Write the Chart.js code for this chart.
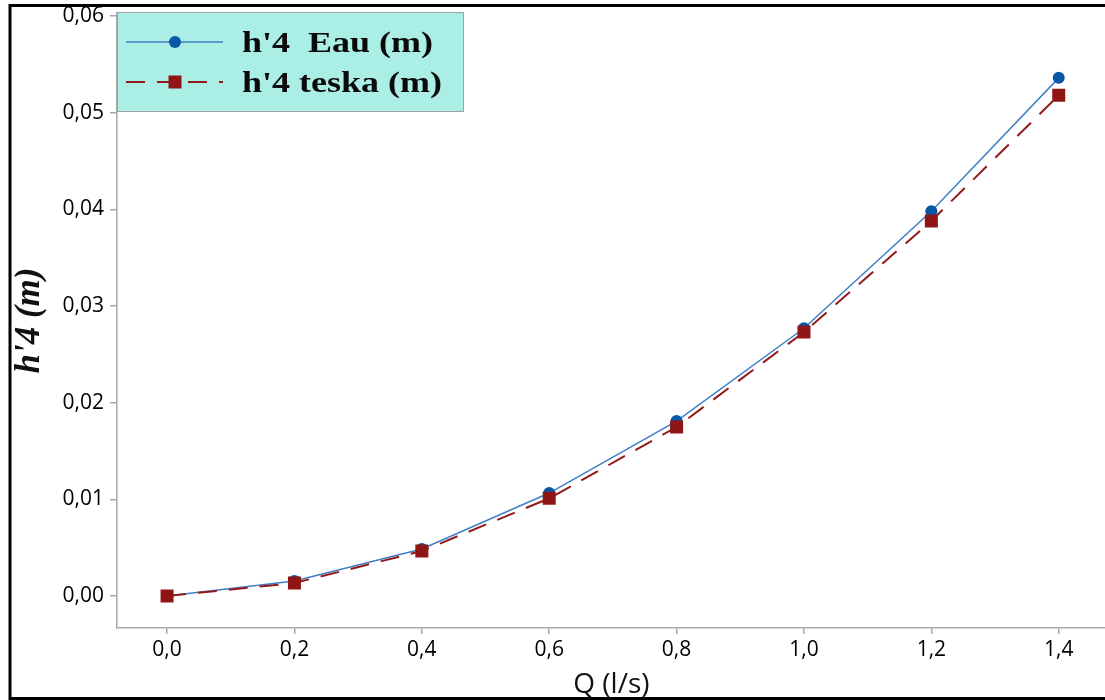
<!DOCTYPE html>
<html>
<head>
<meta charset="utf-8">
<title>h'4 en fonction de Q</title>
<script src="https://cdn.jsdelivr.net/npm/chart.js@4.4.1/dist/chart.umd.min.js"></script>
<style>
  html, body { margin: 0; padding: 0; background: #fff; overflow: hidden; }
  #wrap { width: 1105px; height: 700px; overflow: hidden; }
  canvas { display: block; }
</style>
</head>
<body>
<div id="wrap"><canvas id="chart" width="1115" height="700"></canvas></div>
<script>
// Débit Q (l/s) et hauteurs h'4 mesurées (m)
const debits = [0.0, 0.2, 0.4, 0.6, 0.8, 1.0, 1.2, 1.4];
const hEau = [0.0000, 0.00155, 0.00486, 0.01065, 0.0181, 0.0277, 0.0398, 0.0536];
const hTeska = [0.0000, 0.00134, 0.00465, 0.0101, 0.01748, 0.0273, 0.0388, 0.0518];

const xTicks = [0.0, 0.2, 0.4, 0.6, 0.8, 1.0, 1.2, 1.4];
const yTicks = [0.00, 0.01, 0.02, 0.03, 0.04, 0.05, 0.06];

const toPoints = vals => debits.map((q, i) => ({ x: q, y: vals[i] }));
const virgule = (v, d) => v.toFixed(d).replace('.', ',');

const AXIS_GREY = '#a8a8a8';
const TICK_FONT = { family: 'Open Sans', size: 21 };

// légende encadrée en haut à gauche
const legendBox = {
  id: 'legendBox',
  afterDatasetsDraw(chart) {
    const ctx = chart.ctx;
    const x0 = chart.chartArea.left;
    const y0 = 12, w = 346, h = 99;
    ctx.save();
    ctx.fillStyle = '#aaeee5';
    ctx.fillRect(x0, y0, w, h);
    ctx.strokeStyle = '#a0a0a0';
    ctx.lineWidth = 1;
    ctx.strokeRect(x0 + 0.5, y0 + 0.5, w, h);

    const rows = [42, 82];
    chart.data.datasets.forEach((ds, i) => {
      const y = rows[i];
      ctx.strokeStyle = ds.borderColor;
      ctx.lineWidth = ds.borderWidth;
      ctx.setLineDash(ds.borderDash || []);
      ctx.beginPath();
      ctx.moveTo(x0 + 9, y);
      ctx.lineTo(x0 + 106, y);
      ctx.stroke();
      ctx.setLineDash([]);

      ctx.fillStyle = ds.pointBackgroundColor;
      const cx = x0 + 58;
      if (ds.pointStyle === 'rect') {
        const s = ds.pointRadius * Math.SQRT1_2;
        ctx.fillRect(cx - s, y - s, 2 * s, 2 * s);
      } else {
        ctx.beginPath();
        ctx.arc(cx, y, ds.pointRadius, 0, Math.PI * 2);
        ctx.fill();
      }

      ctx.fillStyle = '#0a0a0a';
      ctx.font = 'bold 30px "Liberation Serif"';
      ctx.textBaseline = 'alphabetic';
      ctx.save();
      ctx.translate(x0 + 125, y + 10);
      ctx.scale(1.2, 1);
      ctx.fillText(ds.label, 0, 0);
      ctx.restore();
    });
    ctx.restore();
  }
};

// cadre noir autour de la figure
const cadre = {
  id: 'cadre',
  afterDraw(chart) {
    const ctx = chart.ctx;
    ctx.save();
    ctx.strokeStyle = '#000';
    ctx.lineWidth = 3;
    ctx.beginPath();
    ctx.moveTo(1120, 5.5);
    ctx.lineTo(10, 5.5);
    ctx.lineTo(10, 698.5);
    ctx.lineTo(1120, 698.5);
    ctx.stroke();
    ctx.restore();
  }
};

new Chart(document.getElementById('chart'), {
  type: 'line',
  data: {
    datasets: [
      {
        label: "h'4  Eau (m)",
        data: toPoints(hEau),
        borderColor: '#3f7fc6',
        borderWidth: 1.5,
        pointStyle: 'circle',
        pointRadius: 6,
        pointBorderWidth: 0,
        pointBackgroundColor: '#0757a6',
        tension: 0,
        order: 1
      },
      {
        label: "h'4 teska (m)",
        data: toPoints(hTeska),
        borderColor: '#921a1a',
        borderWidth: 2,
        borderDash: [19, 12],
        pointStyle: 'rect',
        pointRadius: 9.2,
        pointBorderWidth: 0,
        pointBackgroundColor: '#901616',
        tension: 0,
        order: 0
      }
    ]
  },
  options: {
    responsive: false,
    animation: false,
    layout: { padding: { top: 13, right: 0, bottom: 0, left: 0 } },
    plugins: {
      legend: { display: false },
      tooltip: { enabled: false }
    },
    scales: {
      x: {
        type: 'linear',
        min: -0.0786,
        max: 1.4739,
        afterBuildTicks: s => { s.ticks = xTicks.map(v => ({ value: v })); },
        afterFit: s => { s.height = 72; s.paddingLeft = 0; s.paddingRight = 0; },
        grid: { drawOnChartArea: false, tickLength: 6, color: AXIS_GREY, lineWidth: 1.5 },
        border: { color: AXIS_GREY, width: 1.5 },
        ticks: {
          padding: 3,
          color: '#000',
          maxRotation: 0,
          autoSkip: false,
          font: TICK_FONT,
          callback: v => virgule(v, 1)
        },
        title: {
          display: true,
          text: 'Q (l/s)',
          color: '#111',
          font: { family: 'Open Sans', size: 28, lineHeight: 1 },
          padding: { top: 0, bottom: 1 }
        }
      },
      y: {
        type: 'linear',
        min: -0.00331,
        max: 0.06031,
        afterBuildTicks: s => { s.ticks = yTicks.map(v => ({ value: v })); },
        afterFit: s => { s.width = 117; s.paddingTop = 0; s.paddingBottom = 0; },
        grid: { drawOnChartArea: false, tickLength: 7, color: AXIS_GREY, lineWidth: 1.5 },
        border: { color: AXIS_GREY, width: 1.5 },
        ticks: {
          padding: 6,
          color: '#000',
          autoSkip: false,
          font: TICK_FONT,
          callback: v => virgule(v, 2)
        },
        title: {
          display: true,
          text: "h'4 (m)",
          color: '#111',
          font: { family: 'Liberation Serif', size: 35, style: 'italic', weight: 'bold', lineHeight: 1 },
          padding: { top: 12, bottom: 0 }
        }
      }
    }
  },
  plugins: [legendBox, cadre]
});
</script>
</body>
</html>
